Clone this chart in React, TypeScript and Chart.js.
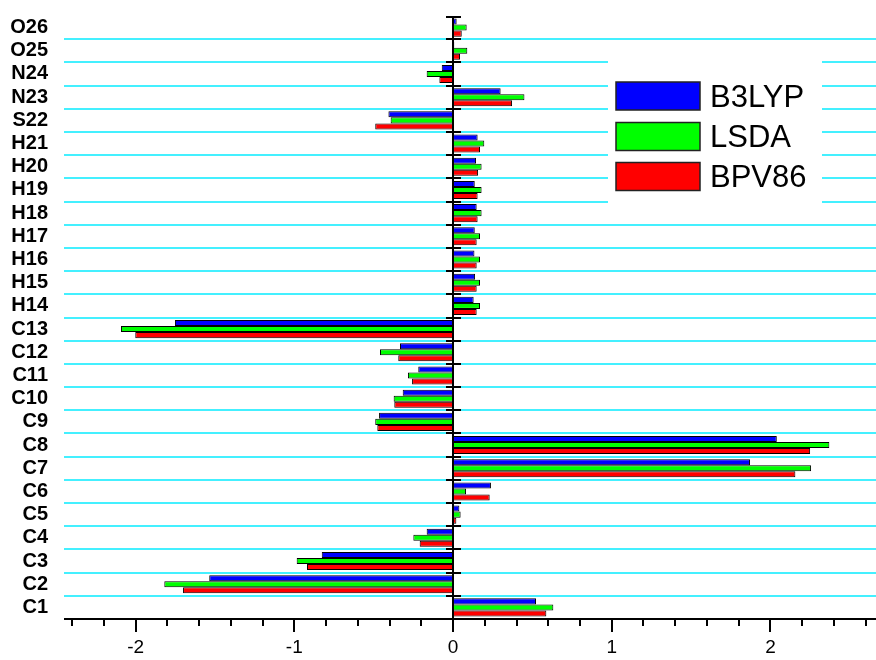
import React, { useEffect, useRef } from 'react';
import { Chart, registerables } from 'chart.js';

Chart.register(...registerables);

// Categories listed top to bottom as they appear in the chart
const categories = ['O26', 'O25', 'N24', 'N23', 'S22', 'H21', 'H20', 'H19', 'H18', 'H17', 'H16', 'H15', 'H14', 'C13', 'C12', 'C11', 'C10', 'C9', 'C8', 'C7', 'C6', 'C5', 'C4', 'C3', 'C2', 'C1'];
const b3lyp = [0.023, 0.008, -0.071, 0.30, -0.407, 0.155, 0.145, 0.137, 0.149, 0.137, 0.135, 0.139, 0.13, -1.752, -0.334, -0.219, -0.317, -0.466, 2.04, 1.871, 0.239, 0.04, -0.166, -0.827, -1.536, 0.523];
const lsda = [0.086, 0.09, -0.166, 0.45, -0.393, 0.197, 0.18, 0.18, 0.18, 0.17, 0.17, 0.17, 0.17, -2.092, -0.46, -0.284, -0.374, -0.49, 2.371, 2.256, 0.082, 0.048, -0.25, -0.985, -1.819, 0.632];
const bpv86 = [0.055, 0.044, -0.086, 0.372, -0.49, 0.17, 0.158, 0.155, 0.155, 0.149, 0.149, 0.149, 0.149, -2.002, -0.345, -0.258, -0.37, -0.477, 2.25, 2.157, 0.231, 0.021, -0.21, -0.92, -1.701, 0.588];
const seriesNames = ['B3LYP', 'LSDA', 'BPV86'];
const seriesColors = ['#0000FF', '#00FF00', '#FF0000'];
const xTickLabels = [-2, -1, 0, 1, 2];
const xMin = -2.451;
const xMax = 2.665;

const FONT = '"Liberation Sans", Arial, sans-serif';
const GRID = '#44F0FF';

const decor = {
  id: 'decor',
  beforeDatasetsDraw(chart: any) {
    const { ctx, chartArea, scales } = chart;
    const y = scales.y;
    ctx.save();
    ctx.strokeStyle = GRID;
    ctx.lineWidth = 2;
    for (let i = 1; i < categories.length; i++) {
      const yy = Math.round((y.getPixelForValue(i - 1) + y.getPixelForValue(i)) / 2);
      ctx.beginPath();
      ctx.moveTo(chartArea.left, yy);
      ctx.lineTo(chart.width, yy);
      ctx.stroke();
    }
    ctx.restore();
  },
  afterDatasetsDraw(chart: any) {
    const { ctx, chartArea, scales } = chart;
    const x = scales.x;
    const y = scales.y;
    const x0 = Math.round(x.getPixelForValue(0));
    ctx.save();
    ctx.strokeStyle = '#000';
    ctx.lineWidth = 2;
    // zero line
    ctx.beginPath();
    ctx.moveTo(x0, chartArea.top);
    ctx.lineTo(x0, chartArea.bottom);
    ctx.stroke();
    // ticks on zero line at category boundaries
    for (let i = 0; i < categories.length; i++) {
      const yy = i === 0
        ? chartArea.top + 1
        : Math.round((y.getPixelForValue(i - 1) + y.getPixelForValue(i)) / 2);
      ctx.beginPath();
      ctx.moveTo(x0 - 7, yy);
      ctx.lineTo(x0 + 8, yy);
      ctx.stroke();
    }
    // x axis line
    const yb = Math.round(chartArea.bottom);
    ctx.beginPath();
    ctx.moveTo(chartArea.left, yb);
    ctx.lineTo(chart.width, yb);
    ctx.stroke();
    // major / minor ticks
    for (let k = -12; k <= 13; k++) {
      const v = k / 5;
      const px = Math.round(x.getPixelForValue(v));
      const len = k % 5 === 0 ? 13 : 7;
      ctx.beginPath();
      ctx.moveTo(px, yb);
      ctx.lineTo(px, yb + len);
      ctx.stroke();
    }
    ctx.restore();
  },
  afterDraw(chart: any) {
    const { ctx } = chart;
    ctx.save();
    ctx.fillStyle = '#fff';
    ctx.fillRect(608, 50, 214, 160);
    const boxX = 616;
    const boxTops = [82, 122.5, 162.5];
    chart.data.datasets.forEach((ds: any, i: number) => {
      const top = boxTops[i];
      ctx.fillStyle = ds.backgroundColor;
      ctx.fillRect(boxX, top, 84, 28);
      ctx.strokeStyle = '#222';
      ctx.lineWidth = 1.5;
      ctx.strokeRect(boxX, top, 84, 28);
      ctx.fillStyle = '#000';
      ctx.font = `31px ${FONT}`;
      ctx.textAlign = 'left';
      ctx.textBaseline = 'alphabetic';
      ctx.fillText(ds.label, 710, top + 24.5);
    });
    ctx.restore();
  },
};

export default function App() {
  const canvasRef = useRef<HTMLCanvasElement | null>(null);

  useEffect(() => {
    document.body.style.margin = '0';
    document.body.style.overflow = 'hidden';
    const canvas = canvasRef.current;
    if (!canvas) return;
    const seriesData = [b3lyp, lsda, bpv86];
    const chart = new Chart(canvas, {
      type: 'bar',
      data: {
        labels: categories,
        datasets: seriesNames.map((name, i) => ({
          label: name,
          data: seriesData[i],
          backgroundColor: seriesColors[i],
          borderColor: '#000',
          borderWidth: 1,
          borderSkipped: false,
          categoryPercentage: 0.78,
          barPercentage: 1.0,
        })),
      },
      options: {
        indexAxis: 'y',
        animation: false,
        responsive: false,
        maintainAspectRatio: false,
        devicePixelRatio: 1,
        layout: { padding: { top: 16, left: 8, right: 0, bottom: 0 } },
        plugins: {
          legend: { display: false },
          tooltip: { enabled: false },
        },
        scales: {
          x: {
            type: 'linear',
            min: xMin,
            max: xMax,
            grid: { display: false, drawTicks: false },
            border: { display: false },
            ticks: {
              stepSize: 1,
              includeBounds: false,
              autoSkip: false,
              maxRotation: 0,
              padding: 17,
              color: '#000',
              font: { family: FONT, size: 19 },
              callback: (v: any) => (xTickLabels.includes(Number(v)) ? String(v) : ''),
            },
            afterFit: (scale: any) => {
              scale.height = 41;
              scale.paddingLeft = 0;
              scale.paddingRight = 0;
            },
          },
          y: {
            type: 'category',
            grid: { display: false, drawTicks: false },
            border: { display: false },
            ticks: {
              padding: 16,
              color: '#000',
              autoSkip: false,
              font: { family: FONT, size: 20, weight: 'bold' },
            },
            afterFit: (scale: any) => {
              scale.width = 56;
              scale.paddingTop = 0;
              scale.paddingBottom = 0;
            },
          },
        },
      },
      plugins: [decor],
    } as any);
    return () => chart.destroy();
  }, []);

  return (
    <div style={{ width: 876, height: 660, background: '#fff' }}>
      <canvas ref={canvasRef} width={876} height={660} style={{ display: 'block' }} />
    </div>
  );
}
